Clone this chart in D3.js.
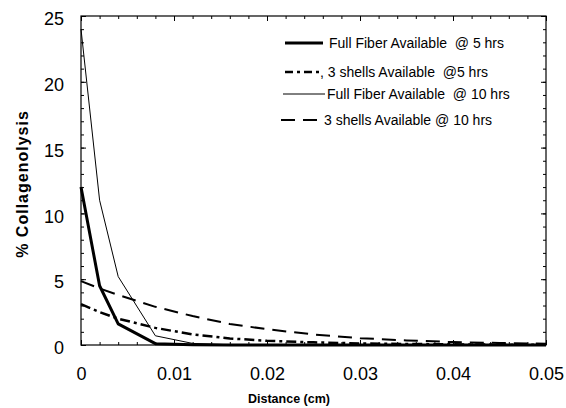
<!DOCTYPE html>
<html lang="en">
<head>
  <meta charset="UTF-8">
  <title>Collagenolysis vs Distance</title>
  <script src="https://d3js.org/d3.v7.min.js"></script>
  <style>
    body { margin: 0; background: #fff; }
    text { font-family: "Liberation Sans", "DejaVu Sans", sans-serif; fill: #000; }
    .axis path { display: none; }
    .axis line { stroke: #000; stroke-width: 1; }
    .axis text { font-size: 18px; }
  </style>
</head>
<body>
  <div id="chart"></div>
  <script type="text/javascript">

  // distances (cm)
  var distance = [0, 0.002, 0.004, 0.008, 0.012, 0.016, 0.02, 0.025, 0.03, 0.035, 0.04, 0.045, 0.05];

  var full5 = [12, 4.5, 1.6, 0.1, 0.02, 0, 0, 0, 0, 0, 0, 0, 0];
  var shells5 = [3.1, 2.5, 2.0, 1.3, 0.8, 0.5, 0.32, 0.2, 0.12, 0.08, 0.05, 0.03, 0.02];
  var full10 = [24, 11, 5.2, 0.7, 0.12, 0.02, 0, 0, 0, 0, 0, 0, 0];
  var shells10 = [4.85, 4.3, 3.8, 2.9, 2.2, 1.6, 1.2, 0.8, 0.52, 0.35, 0.22, 0.15, 0.1];

  var seriesNames = [
    "Full Fiber Available  @ 5 hrs",
    ", 3 shells Available  @5 hrs",
    "Full Fiber Available  @ 10 hrs",
    "3 shells Available @ 10 hrs"
  ];

  var xTicks = [0, 0.01, 0.02, 0.03, 0.04, 0.05];
  var xTickLabels = ["0", "0.01", "0.02", "0.03", "0.04", "0.05"];
  var yTicks = [0, 5, 10, 15, 20, 25];

  var w = 566, h = 408;
  var margin = {top: 16, right: 20, bottom: 63, left: 81};

  var svg = d3.select('#chart').append('svg')
    .attr("width", w)
    .attr("height", h);

  var x = d3.scaleLinear().domain([0, 0.05]).range([margin.left, w - margin.right]);
  var y = d3.scaleLinear().domain([0, 25]).range([h - margin.bottom, margin.top]);

  var styles = [
    {width: 3, dash: null},
    {width: 2.5, dash: "10,4,3,4"},
    {width: 1, dash: null},
    {width: 2, dash: "14,8"}
  ];
  var values = [full5, shells5, full10, shells10];

  // frame
  svg.append("rect")
    .attr("x", x(0)).attr("y", y(25))
    .attr("width", x(0.05) - x(0)).attr("height", y(0) - y(25))
    .attr("fill", "none").attr("stroke", "#000").attr("stroke-width", 1.2);

  var minorX = d3.range(0, 0.0501, 0.002);
  var minorY = d3.range(0, 25.01, 1);

  // ticks pointing inward on all four sides
  svg.append("g").attr("class", "axis")
    .attr("transform", "translate(0," + y(0) + ")")
    .call(d3.axisBottom(x).tickValues(minorX).tickSize(-3).tickFormat(""));
  svg.append("g").attr("class", "axis")
    .attr("transform", "translate(0," + y(0) + ")")
    .call(d3.axisBottom(x).tickValues(xTicks).tickSize(-5).tickPadding(22)
      .tickFormat((d, i) => xTickLabels[i]));
  svg.append("g").attr("class", "axis")
    .attr("transform", "translate(0," + y(25) + ")")
    .call(d3.axisTop(x).tickValues(minorX).tickSize(-3).tickFormat(""));
  svg.append("g").attr("class", "axis")
    .attr("transform", "translate(0," + y(25) + ")")
    .call(d3.axisTop(x).tickValues(xTicks).tickSize(-5).tickFormat(""));

  svg.append("g").attr("class", "axis")
    .attr("transform", "translate(" + x(0) + ",0)")
    .call(d3.axisLeft(y).tickValues(minorY).tickSize(-3).tickFormat(""));
  svg.append("g").attr("class", "axis yl")
    .attr("transform", "translate(" + x(0) + ",0)")
    .call(d3.axisLeft(y).tickValues(yTicks).tickSize(-5).tickPadding(17).tickFormat(d3.format("d")));
  svg.selectAll(".yl text").attr("transform", "translate(0,3)");
  svg.append("g").attr("class", "axis")
    .attr("transform", "translate(" + x(0.05) + ",0)")
    .call(d3.axisRight(y).tickValues(minorY).tickSize(-3).tickFormat(""));
  svg.append("g").attr("class", "axis")
    .attr("transform", "translate(" + x(0.05) + ",0)")
    .call(d3.axisRight(y).tickValues(yTicks).tickSize(-5).tickFormat(""));

  // lines
  var line = d3.line()
    .x((d, i) => x(distance[i]))
    .y(d => y(d));

  svg.selectAll(".series")
    .data(values)
    .enter()
    .append("path")
    .attr("class", "series")
    .attr("d", d => line(d))
    .attr("fill", "none")
    .attr("stroke", "#000")
    .attr("stroke-width", (d, i) => styles[i].width)
    .attr("stroke-dasharray", (d, i) => styles[i].dash)
    .attr("stroke-linejoin", "round");

  // legend
  var legendRows = [
    {x1: 285, x2: 323, tx: 329, ty: 43},
    {x1: 285, x2: 320, tx: 320, ty: 72},
    {x1: 283, x2: 325, tx: 327, ty: 94},
    {x1: 281, x2: 318, tx: 324, ty: 120}
  ];
  var legend = svg.append("g");
  legendRows.forEach(function(r, i) {
    legend.append("line")
      .attr("x1", r.x1).attr("x2", r.x2)
      .attr("y1", r.ty).attr("y2", r.ty)
      .attr("stroke", "#000")
      .attr("stroke-width", styles[i].width)
      .attr("stroke-dasharray", i == 1 ? "8,4,3,4" : styles[i].dash);
    legend.append("text")
      .attr("x", r.tx).attr("y", r.ty)
      .attr("dy", "0.35em")
      .style("font-size", "14px")
      .style("white-space", "pre")
      .text(seriesNames[i]);
  });

  // axis titles
  svg.append("text")
    .attr("x", 289).attr("y", 399)
    .attr("dy", "0.35em")
    .attr("text-anchor", "middle")
    .style("font-size", "12.5px")
    .style("font-weight", "bold")
    .text("Distance (cm)");

  svg.append("text")
    .attr("transform", "translate(22,184) rotate(-90)")
    .attr("dy", "0.35em")
    .attr("text-anchor", "middle")
    .style("font-size", "16px")
    .style("font-weight", "bold")
    .style("letter-spacing", "1px")
    .text("% Collagenolysis");

  </script>
</body>
</html>
